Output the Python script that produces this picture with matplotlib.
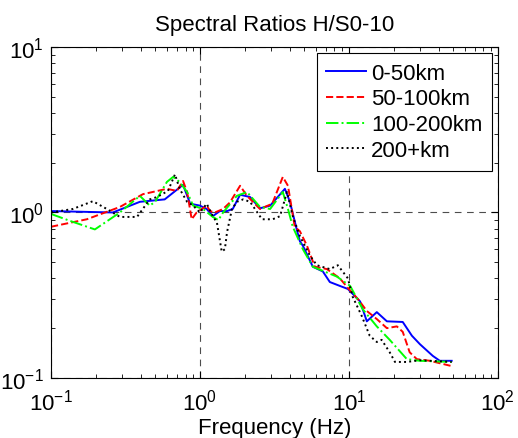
import matplotlib.pyplot as plt

plt.rcParams["font.family"] = ["Liberation Sans", "DejaVu Sans"]
plt.rcParams["mathtext.fontset"] = "custom"
plt.rcParams["mathtext.rm"] = "Liberation Sans"
plt.rcParams["mathtext.it"] = "Liberation Sans"

# spectral ratios
freq_0_50 = [0.1, 0.26, 0.395, 0.58, 0.77, 0.86, 1.0, 1.11, 1.22, 1.36, 1.52, 1.66, 1.86,
             2.17, 2.53, 2.96, 3.72, 4.02, 4.48, 4.69, 4.91, 5.73, 6.69, 7.45, 8.7, 9.85,
             11.9, 13.2, 15.4, 18.0, 23.0, 26.5, 30.0, 36.6, 40.8, 49.0]
ratio_0_50 = [1.02, 1.0, 1.16, 1.2, 1.47, 1.13, 1.1, 1.05, 0.95, 1.02, 1.02, 1.05, 1.28,
              1.24, 1.06, 1.1, 1.39, 1.16, 0.78, 0.67, 0.63, 0.47, 0.44, 0.38, 0.36, 0.345,
              0.29, 0.22, 0.25, 0.22, 0.218, 0.18, 0.16, 0.136, 0.127, 0.127]

freq_50_100 = [0.1, 0.174, 0.29, 0.414, 0.6, 0.7, 0.77, 0.82, 0.88, 0.95, 1.11, 1.17, 1.26,
               1.43, 1.59, 1.86, 2.07, 2.53, 3.06, 3.6, 3.9, 4.33, 4.69, 5.23, 5.91, 7.12,
               8.7, 9.85, 11.5, 13.2, 15.4, 18.0, 21.0, 23.0, 25.6, 28.6, 35.0, 49.0]
ratio_50_100 = [0.82, 0.91, 1.08, 1.29, 1.39, 1.35, 1.55, 1.33, 0.91, 1.0, 1.1, 1.02, 1.0,
                1.05, 1.15, 1.45, 1.26, 1.05, 1.13, 1.64, 1.45, 0.82, 0.77, 0.63, 0.47, 0.455,
                0.4, 0.35, 0.3, 0.254, 0.227, 0.2, 0.205, 0.19, 0.143, 0.13, 0.127, 0.118]

freq_100_200 = [0.1, 0.134, 0.197, 0.29, 0.395, 0.46, 0.5, 0.6, 0.66, 0.73, 0.82, 0.9, 1.05,
                1.22, 1.33, 1.43, 1.77, 2.07, 2.53, 2.96, 3.6, 3.9, 4.2, 4.91, 5.73, 8.3,
                10.2, 12.4, 15.4, 18.8, 24.5, 30.0, 49.0]
ratio_100_200 = [0.98, 0.89, 0.79, 1.0, 1.26, 1.1, 1.16, 1.53, 1.64, 1.53, 1.33, 1.1, 1.05,
                 0.94, 0.9, 1.0, 1.26, 1.33, 1.08, 1.05, 1.33, 1.05, 0.82, 0.6, 0.47, 0.41,
                 0.36, 0.26, 0.205, 0.17, 0.13, 0.127, 0.125]

freq_200 = [0.1, 0.14, 0.191, 0.237, 0.29, 0.378, 0.46, 0.515, 0.61, 0.68, 0.73, 0.82, 0.9,
            1.0, 1.11, 1.22, 1.3, 1.4, 1.47, 1.52, 1.64, 1.77, 1.95, 2.17, 2.61, 3.08, 3.45,
            3.84, 4.2, 4.69, 5.47, 6.1, 7.45, 8.43, 9.85, 10.6, 12.2, 13.8, 15.4, 16.6, 18.8,
            20.4, 24.5, 30.0, 49.0]
ratio_200 = [1.0, 1.05, 1.17, 1.05, 0.94, 0.94, 1.2, 1.24, 1.35, 1.7, 1.39, 1.16, 1.1,
             1.0, 1.13, 0.95, 0.87, 0.58, 0.6, 0.76, 1.05, 1.16, 1.2, 1.16, 0.91, 0.91, 0.95,
             1.33, 0.95, 0.72, 0.55, 0.48, 0.455, 0.48, 0.4, 0.31, 0.237, 0.18, 0.165, 0.17, 0.143,
             0.125, 0.125, 0.128, 0.125]

fig = plt.figure(figsize=(5.18, 4.39), dpi=100)
ax = fig.add_axes([0.0985, 0.1367, 0.8625, 0.754])

ax.loglog(freq_0_50, ratio_0_50, color="b", ls="-", lw=1.4, label="0-50km")
ax.loglog(freq_50_100, ratio_50_100, color="r", ls="--", lw=1.4, label="50-100km")
ax.loglog(freq_100_200, ratio_100_200, color=(0, 1, 0), ls="-.", lw=1.4, label="100-200km")
ax.loglog(freq_200, ratio_200, color="k", ls=":", lw=1.4, label="200+km")

ax.set_xlim(0.1, 100)
ax.set_ylim(0.1, 10)
ax.grid(True, which="major", color="0.3", ls=(0, (6, 5)), lw=0.8)
ax.tick_params(which="both", direction="in", top=True, right=True, labelsize=16)
ax.tick_params(axis="x", which="major", pad=8)
ax.tick_params(axis="y", which="major", pad=5)
ax.tick_params(which="major", length=5)
ax.tick_params(which="minor", length=3)
for s in ax.spines.values():
    s.set_linewidth(0.8)

ax.set_title("Spectral Ratios H/S0-10", fontsize=16, pad=12)
ax.set_xlabel("Frequency (Hz)", fontsize=16, labelpad=1.5)

leg = ax.legend(loc="upper right", fontsize=16, fancybox=False, framealpha=1,
                edgecolor="k", handlelength=1.8, borderaxespad=0.28, labelspacing=0.22,
                handletextpad=0.2, borderpad=0.42)
leg.get_frame().set_linewidth(0.8)

plt.savefig("out.png", dpi=100)
